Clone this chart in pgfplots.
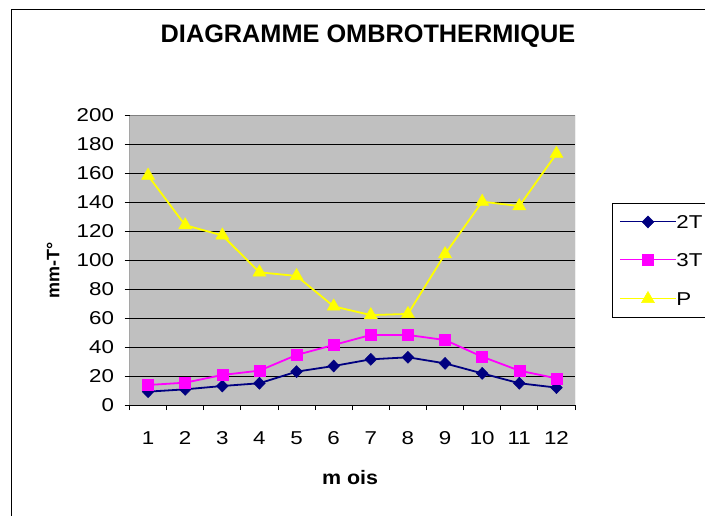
\documentclass[border=0pt]{standalone}
\usepackage{fontspec}
\setmainfont{Liberation Sans}
\newfontfamily\tickfont{Liberation Sans}[FakeStretch=1.2]
\newfontfamily\labfont{Liberation Sans}[FakeStretch=1.1]
\usepackage{pgfplots}
\pgfplotsset{compat=1.18}
\definecolor{bggray}{HTML}{C0C0C0}
\definecolor{navyc}{HTML}{000080}
\definecolor{magc}{HTML}{FF00FF}
\definecolor{yelc}{HTML}{FFFF00}
\begin{document}
\begin{tikzpicture}
\useasboundingbox (0pt,0pt) rectangle (705pt,515pt);
\draw[line width=1.3pt] (11.5pt,-20pt) -- (11.5pt,505.5pt) -- (730pt,505.5pt);
\begin{axis}[
  at={(129.5pt,110pt)}, anchor=south west,
  scale only axis, width=445.5pt, height=290pt,
  xmin=0.5, xmax=12.5, ymin=0, ymax=200,
  xtick={1,...,12},
  minor xtick={0.5,1.5,...,12.5},
  ytick={0,20,...,200},
  major x tick style={draw=none},
  minor tick length=5pt, major tick length=5pt,
  tick align=outside,
  xtick pos=bottom, ytick pos=left,
  /pgf/number format/assume math mode=true,
  tick label style={font=\tickfont\fontsize{18.6}{20}\selectfont},
  xticklabel style={yshift=-18pt},
  yticklabel style={xshift=-7pt},
  ymajorgrids, grid style={black, line width=0.9pt},
  axis background/.style={fill=bggray},
  axis line style={draw=none},
  every tick/.style={black, line width=0.9pt},
  title={DIAGRAMME OMBROTHERMIQUE},
  title style={at={(axis description cs:0.5354,1.2517)}, anchor=center, font=\bfseries\fontsize{25.3}{27}\selectfont},
  ylabel={mm-T°},
  ylabel style={at={(axis description cs:-0.1717,0.4655)}, anchor=center, font=\bfseries\fontsize{18}{20}\selectfont},
  xlabel={m ois},
  xlabel style={at={(axis description cs:0.495,-0.2517)}, anchor=center, font=\labfont\bfseries\fontsize{19.5}{21}\selectfont},
  legend cell align=left,
  legend style={at={(axis description cs:1.0831,0.6966)}, anchor=north west,
    draw=black, line width=0.9pt, fill=white,
    font=\tickfont\fontsize{18.6}{20}\selectfont,
    inner xsep=7pt, inner ysep=12pt, row sep=25pt,
    nodes={inner sep=0pt, text height=13pt, text depth=0pt}},
  legend image code/.code={\draw[mark repeat=2,mark phase=2, line width=1pt] plot coordinates {(0pt,0pt) (28pt,0pt) (56pt,0pt)};},
]
\addplot[navyc, line width=1.8pt, mark=diamond*, mark size=6pt,
  mark options={solid, fill=navyc, draw=navyc, xscale=1.3, line width=0.5pt}]
  coordinates {(1,9.2) (2,10.8) (3,13.1) (4,15) (5,23) (6,26.9) (7,31.5) (8,32.9) (9,28.7) (10,21.8) (11,15) (12,12)};
\addlegendentry{2T}
\addplot[magc, line width=1.8pt, mark=square*, mark size=5.5pt,
  mark options={solid, fill=magc, draw=magc, line width=0.5pt}]
  coordinates {(1,13.8) (2,15.4) (3,20.7) (4,23.7) (5,34.5) (6,41.4) (7,48.3) (8,48.3) (9,44.8) (10,33.3) (11,23.7) (12,18.4)};
\addlegendentry{3T}
\addplot[yelc, line width=1.8pt, mark=triangle*, mark size=7.5pt,
  mark options={solid, fill=yelc, draw=yelc, line width=0.5pt}]
  coordinates {(1,158.2) (2,124) (3,117) (4,91.5) (5,89) (6,68) (7,62) (8,62.8) (9,104.1) (10,140.2) (11,137.2) (12,173.3)};
\addlegendentry{P}
\draw[gray, line width=0.9pt] (rel axis cs:0,1) -- (rel axis cs:1,1) -- (rel axis cs:1,0);
\draw[black, line width=0.9pt] (rel axis cs:0,1) -- (rel axis cs:0,0) -- (rel axis cs:1,0);
\end{axis}
\end{tikzpicture}
\end{document}
